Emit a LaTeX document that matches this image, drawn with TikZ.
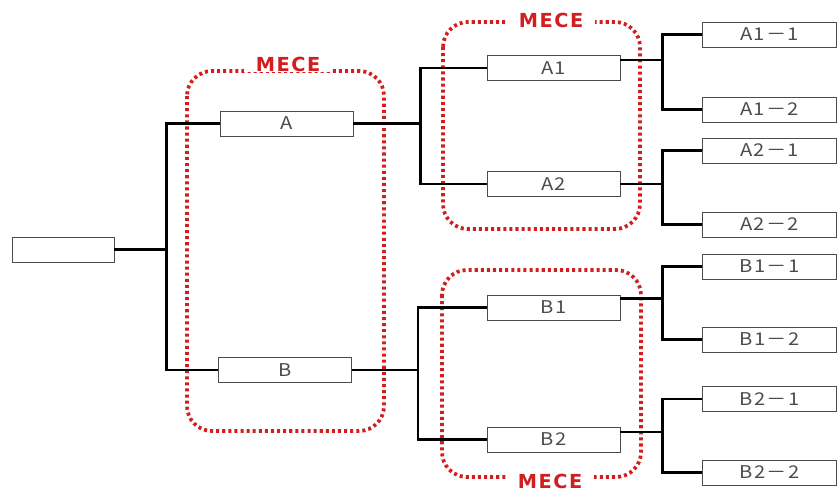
\documentclass[tikz,border=0pt]{standalone}
\usepackage{fontspec}
\usepackage{graphicx}
\setmainfont{Noto Sans CJK JP}
\newfontfamily\boxfont{Noto Sans CJK JP}[LetterSpace=6]
\newfontfamily\mecefont{DejaVu Sans}[LetterSpace=8]
\usepackage{xcolor}
\usepackage{tikz}
\usetikzlibrary{positioning,calc}

\definecolor{meceRed}{RGB}{210,30,30}
\newcommand{\wide}[1]{\scalebox{1.15}[1]{#1}}

\begin{document}
\begin{tikzpicture}[x=0.03cm, y=-0.03cm,
    every node/.style={font=\boxfont\fontsize{15}{17}\selectfont, text=black!70},
    box/.style={draw=black!70, line width=0.8pt, minimum width=3.99cm, minimum height=0.75cm, inner sep=0pt},
    rootbox/.style={box, minimum width=3.06cm},
    leafbox/.style={box, minimum width=4.0cm},
    branch/.style={line width=2.3pt, black},
    mecebox/.style={meceRed, line width=3.2pt, dash pattern=on 2.6pt off 2.6pt, rounded corners=0.75cm},
    mecelabel/.style={fill=white, text=meceRed, font=\mecefont\bfseries\fontsize{16.5}{18}\selectfont, inner xsep=10pt, inner ysep=1pt}]
    \useasboundingbox (0,0) rectangle (837,491);

    % MECE groups
    \draw[mecebox] (187,71) rectangle (384,431);
    \draw[mecebox] (443,22) rectangle (640,229);
    \draw[mecebox] (442,270) rectangle (641,477);
    \node[mecelabel] (meceAB) at (288,64) {MECE};
    \node[mecelabel] (meceA) at (551,20) {MECE};
    \node[mecelabel] (meceB) at (550,481) {MECE};

    % Tree nodes
    \node[rootbox] (root) at (63,249.5) {};
    \node[box] (A) at (286.5,123.5) {\wide{A}};
    \node[box] (B) at (285,370) {\wide{B}};
    \node[box] (A1) at (553.5,68) {\wide{A1}};
    \node[box] (A2) at (553.5,184) {\wide{A2}};
    \node[box] (B1) at (553.5,307.5) {\wide{B1}};
    \node[box] (B2) at (553.5,439.5) {\wide{B2}};
    \node[leafbox] (A11) at (769.5,34.5) {\wide{A1－1}};
    \node[leafbox] (A12) at (769.5,109.5) {\wide{A1－2}};
    \node[leafbox] (A21) at (769.5,150.5) {\wide{A2－1}};
    \node[leafbox] (A22) at (769.5,224.5) {\wide{A2－2}};
    \node[leafbox] (B11) at (769.5,266.5) {\wide{B1－1}};
    \node[leafbox] (B12) at (769.5,339.5) {\wide{B1－2}};
    \node[leafbox] (B21) at (769.5,399) {\wide{B2－1}};
    \node[leafbox] (B22) at (769.5,472.5) {\wide{B2－2}};

    % Branches
    \draw[branch] (root.east) -- ++(52,0) coordinate (r);
    \draw[branch] (A.west) -| (r) |- (B.west);
    \draw[branch] (A.east) -- ++(67,0) coordinate (a);
    \draw[branch] (A1.west) -| (a) |- (A2.west);
    \draw[branch] (B.east) -- ++(66,0) coordinate (b);
    \draw[branch] (B1.west) -| (b) |- (B2.west);
    \draw[branch] ([yshift=6.8pt]A1.east) -- ++(42,0) coordinate (a1);
    \draw[branch] (A11.west) -| (a1) |- (A12.west);
    \draw[branch] (A2.east) -- ++(42,0) coordinate (a2);
    \draw[branch] (A21.west) -| (a2) |- (A22.west);
    \draw[branch] ([yshift=7.5pt]B1.east) -- ++(42,0) coordinate (b1);
    \draw[branch] (B11.west) -| (b1) |- (B12.west);
    \draw[branch] ([yshift=6.5pt]B2.east) -- ++(42,0) coordinate (b2);
    \draw[branch] (B21.west) -| (b2) |- (B22.west);
\end{tikzpicture}
\end{document}
